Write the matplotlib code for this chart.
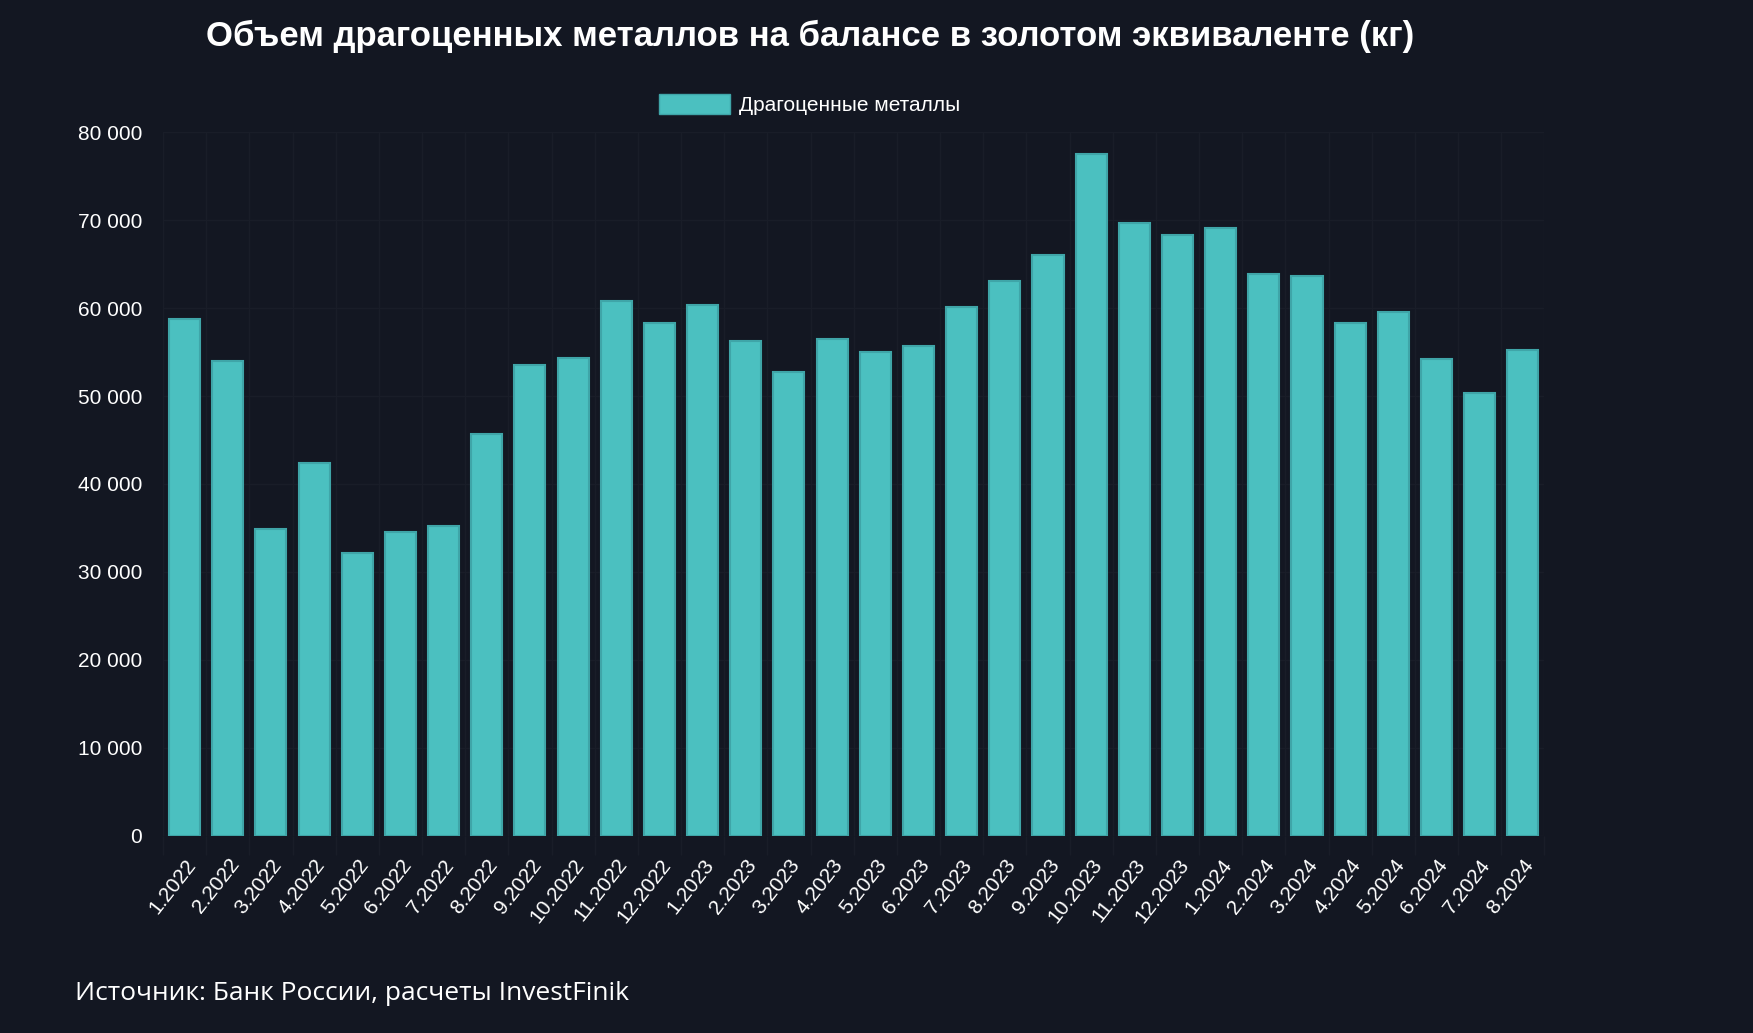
import matplotlib
matplotlib.use('Agg')
from matplotlib import pyplot as plt
from matplotlib.ticker import FuncFormatter, MultipleLocator
from matplotlib.patches import Patch
import numpy as np

# данные
labels = ['1.2022', '2.2022', '3.2022', '4.2022', '5.2022', '6.2022', '7.2022', '8.2022',
          '9.2022', '10.2022', '11.2022', '12.2022', '1.2023', '2.2023', '3.2023', '4.2023',
          '5.2023', '6.2023', '7.2023', '8.2023', '9.2023', '10.2023', '11.2023', '12.2023',
          '1.2024', '2.2024', '3.2024', '4.2024', '5.2024', '6.2024', '7.2024', '8.2024']
metals = [58800, 54000, 34900, 42400, 32100, 34500, 35200, 45700,
          53500, 54300, 60800, 58300, 60400, 56300, 52700, 56500,
          55000, 55700, 60100, 63100, 66000, 77500, 69700, 68300,
          69100, 63900, 63700, 58300, 59600, 54200, 50400, 55200]

bg = '#131722'
bar_color = '#4bc0c0'
edge_color = '#3fa5a8'
grid_color = '#191d28'

plt.rcParams['font.family'] = ['Liberation Sans', 'DejaVu Sans']

fig = plt.figure(figsize=(17.53, 10.33), dpi=100, facecolor=bg)
ax = fig.add_axes([0.093, 0.191, 0.788, 0.681])
ax.set_facecolor(bg)

x = np.arange(len(labels))
ax.bar(x, metals, width=0.72, color=bar_color, edgecolor=edge_color, linewidth=1.5, zorder=3)

ax.set_xlim(-0.5, len(labels) - 0.5)
ax.set_ylim(0, 80000)
ax.yaxis.set_major_locator(MultipleLocator(10000))
ax.yaxis.set_major_formatter(FuncFormatter(lambda v, p: '{:,.0f}'.format(v).replace(',', ' ')))

# сетка между категориями, как в Chart.js
ax.set_xticks(x)
ax.set_xticklabels(labels, rotation=52, ha='right', rotation_mode='anchor', color='white', fontsize=15)
ax.set_xticks(np.arange(-0.5, len(labels)), minor=True)
ax.tick_params(axis='x', which='major', length=0, pad=14)
ax.tick_params(axis='x', which='minor', length=14, color=grid_color, width=1)
ax.tick_params(axis='y', length=0, pad=15, labelcolor='white', labelsize=15)
ax.grid(True, which='minor', axis='x', color=grid_color, linewidth=1, zorder=0)
ax.grid(True, which='major', axis='y', color=grid_color, linewidth=1, zorder=0)
for s in ax.spines.values():
    s.set_visible(False)

fig.text(0.462, 0.965, 'Объем драгоценных металлов на балансе в золотом эквиваленте (кг)',
         ha='center', va='center', color='white', fontsize=25, fontweight='bold')

leg = fig.legend(handles=[Patch(facecolor=bar_color, edgecolor=edge_color, label='Драгоценные металлы')],
                 loc='center', bbox_to_anchor=(0.462, 0.899), frameon=False,
                 handlelength=3.4, handleheight=1.15, handletextpad=0.45, fontsize=15)
for t in leg.get_texts():
    t.set_color('white')

fig.text(0.043, 0.038, 'Источник: Банк России, расчеты InvestFinik', ha='left', va='center',
         color='white', fontsize=19, family=['Open Sans', 'DejaVu Sans'])

plt.savefig('out.png', dpi=100, facecolor=bg)
